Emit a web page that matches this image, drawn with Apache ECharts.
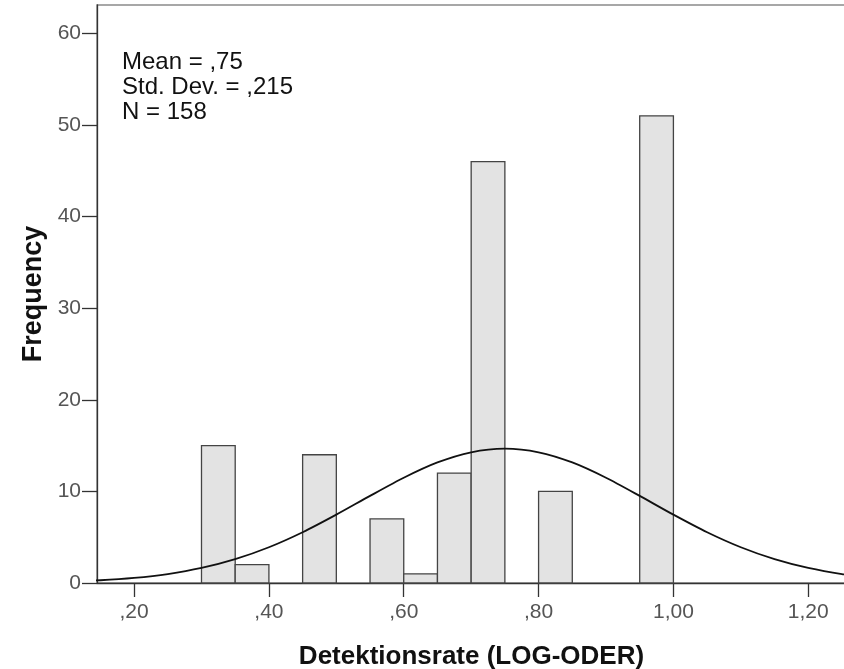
<!DOCTYPE html>
<html>
<head>
<meta charset="utf-8">
<script src="https://cdn.jsdelivr.net/npm/echarts@6/dist/echarts.min.js"></script>
<style>
  html, body { margin: 0; padding: 0; background: #fff; }
  #chart { width: 844px; height: 669px; }
</style>
</head>
<body>
<div id="chart"></div>
<script>
// histogram bins (lower edge, upper edge) and counts
const binLow = [0.30, 0.35, 0.45, 0.55, 0.60, 0.65, 0.70, 0.80, 0.95]
const binHigh = [0.35, 0.40, 0.50, 0.60, 0.65, 0.70, 0.75, 0.85, 1.00]
const counts = [15, 2, 14, 7, 1, 12, 46, 10, 51]

// normal curve
const curveX = [0.10, 0.15, 0.20, 0.25, 0.30, 0.35, 0.40, 0.45, 0.50, 0.55, 0.60, 0.65,
  0.70, 0.75, 0.80, 0.85, 0.90, 0.95, 1.00, 1.05, 1.10, 1.15, 1.20, 1.25, 1.30]
const curveY = [0.15, 0.30, 0.56, 0.98, 1.64, 2.60, 3.90, 5.54, 7.46, 9.51, 11.49, 13.16,
  14.27, 14.66, 14.27, 13.16, 11.49, 9.51, 7.46, 5.54, 3.90, 2.60, 1.64, 0.98, 0.56]

const xTicks = [0.2, 0.4, 0.6, 0.8, 1.0, 1.2]
const statsLines = ['Mean = ,75', 'Std. Dev. = ,215', 'N = 158']

const chart = echarts.init(document.getElementById('chart'))

const barData = binLow.map((lo, i) => [lo, binHigh[i], counts[i]])
const lineData = curveX.map((x, i) => [x, curveY[i]])

const fmt = v => v.toFixed(2).replace('.', ',').replace(/^0/, '')

const option = {
  animation: false,
  textStyle: { fontFamily: 'Liberation Sans, Arial, sans-serif' },
  grid: {
    left: 97, right: -2, top: 5, bottom: 86,
    outerBoundsMode: 'none',
    containLabel: false,
    show: true, borderColor: '#8a8a8a', borderWidth: 1.5
  },
  xAxis: {
    type: 'value',
    min: 0.145,
    max: 1.256,
    splitLine: { show: false },
    axisLine: { onZero: false, lineStyle: { color: '#333', width: 1.3 } },
    axisTick: { customValues: xTicks, length: 14, lineStyle: { color: '#333', width: 1.3 } },
    axisLabel: {
      customValues: xTicks, formatter: fmt,
      color: '#555', fontSize: 21, margin: 19
    },
    name: 'Detektionsrate (LOG-ODER)',
    nameLocation: 'middle',
    nameGap: 61,
    nameTextStyle: { fontSize: 26, fontWeight: 'bold', color: '#111' }
  },
  yAxis: {
    type: 'value',
    min: 0,
    max: 63.1,
    interval: 10,
    splitLine: { show: false },
    axisLine: { show: true, lineStyle: { color: '#333', width: 1.3 } },
    axisTick: { show: true, length: 15, lineStyle: { color: '#333', width: 1.3 } },
    axisLabel: { color: '#555', fontSize: 21, margin: 16, showMaxLabel: false },
    name: 'Frequency',
    nameLocation: 'middle',
    nameGap: 50,
    nameTextStyle: { fontSize: 27, fontWeight: 'bold', color: '#111' }
  },
  graphic: [{
    type: 'text',
    left: 122,
    top: 50,
    style: {
      text: statsLines.join('\n'),
      font: '24px Liberation Sans, Arial, sans-serif',
      lineHeight: 25,
      fill: '#111'
    }
  }],
  series: [
    {
      type: 'custom',
      data: barData,
      encode: { x: [0, 1], y: 2 },
      renderItem: (params, api) => {
        const p0 = api.coord([api.value(0), api.value(2)])
        const p1 = api.coord([api.value(1), 0])
        return {
          type: 'rect',
          shape: { x: p0[0], y: p0[1], width: p1[0] - p0[0], height: p1[1] - p0[1] },
          style: { fill: '#e3e3e3', stroke: '#444', lineWidth: 1.3 }
        }
      },
      z: 2
    },
    {
      type: 'line',
      data: lineData,
      smooth: 0.25,
      showSymbol: false,
      lineStyle: { color: '#111', width: 1.8 },
      z: 3
    }
  ]
}

chart.setOption(option)
</script>
</body>
</html>
